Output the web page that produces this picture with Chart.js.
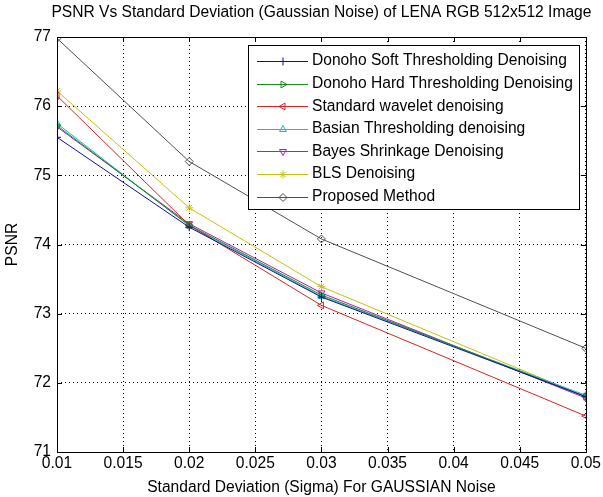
<!DOCTYPE html>
<html lang="en">
<head>
    <meta charset="utf-8">
    <title>PSNR Vs Standard Deviation</title>
    <script src="https://cdn.jsdelivr.net/npm/chart.js"></script>
    <style>
        html, body { margin: 0; padding: 0; background: #fff; }
        #wrap { width: 603px; height: 497px; }
    </style>
</head>
<body>
    <div id="wrap"><canvas id="psnrChart"></canvas></div>
    <script>
        // Valores
        const sigma = [0.01, 0.02, 0.03, 0.05];
        const xTicks = [0.01, 0.015, 0.02, 0.025, 0.03, 0.035, 0.04, 0.045, 0.05];
        const yTicks = [71, 72, 73, 74, 75, 76, 77];

        const donohoSoft = [75.55, 74.25, 73.24, 71.80];
        const donohoHard = [75.72, 74.28, 73.27, 71.80];
        const standardWavelet = [76.15, 74.28, 73.12, 71.52];
        const basian = [75.75, 74.27, 73.25, 71.82];
        const bayesShrink = [75.70, 74.30, 73.30, 71.78];
        const bls = [76.22, 74.53, 73.39, 71.80];
        const proposed = [76.98, 75.20, 74.08, 72.50];

        const FONT = 'Liberation Sans, Arial, sans-serif';
        const FSIZE = 15.6;

        function serie(label, valores, cor, estilo, rot) {
            return {
                label: label,
                data: sigma.map((s, i) => ({ x: s, y: valores[i] })),
                borderColor: cor,
                backgroundColor: 'rgba(0,0,0,0)',
                pointBorderColor: cor,
                pointBackgroundColor: 'rgba(0,0,0,0)',
                borderWidth: 1,
                pointBorderWidth: 1,
                pointRadius: 4,
                pointStyle: estilo,
                pointRotation: rot || 0,
                tension: 0
            };
        }

        const datasets = [
            serie('Donoho Soft Thresholding Denoising', donohoSoft, '#1010a0', 'cross'),
            serie('Donoho Hard Thresholding Denoising', donohoHard, '#1a8a1a', 'triangle', 90),
            serie('Standard wavelet denoising', standardWavelet, '#d02828', 'triangle', -90),
            serie('Basian Thresholding denoising', basian, '#20b8c0', 'triangle'),
            serie('Bayes Shrinkage Denoising', bayesShrink, '#b020b0', 'triangle', 180),
            serie('BLS Denoising', bls, '#c8c010', 'star'),
            serie('Proposed Method', proposed, '#505050', 'rectRot')
        ];

        function marcador(ctx, ds, x, y) {
            if (Chart.helpers && Chart.helpers.drawPoint) {
                ctx.save();
                ctx.strokeStyle = ds.pointBorderColor;
                ctx.fillStyle = 'rgba(0,0,0,0)';
                ctx.lineWidth = 1;
                Chart.helpers.drawPoint(ctx, {
                    pointStyle: ds.pointStyle,
                    rotation: ds.pointRotation,
                    radius: ds.pointRadius,
                    borderWidth: 1
                }, x, y);
                ctx.restore();
            }
        }

        // Caixa, ticks internos, título e legenda no estilo MATLAB
        const matlabStyle = {
            id: 'matlabStyle',
            afterDraw(chart) {
                const ctx = chart.ctx;
                const a = chart.chartArea;
                const xs = chart.scales.x, ys = chart.scales.y;
                ctx.save();
                ctx.strokeStyle = '#000';
                ctx.lineWidth = 1;
                ctx.beginPath();
                xTicks.forEach(t => {
                    const px = Math.round(xs.getPixelForValue(t)) + 0.5;
                    ctx.moveTo(px, a.bottom); ctx.lineTo(px, a.bottom - 5);
                    ctx.moveTo(px, a.top); ctx.lineTo(px, a.top + 5);
                });
                yTicks.forEach(t => {
                    const py = Math.round(ys.getPixelForValue(t)) + 0.5;
                    ctx.moveTo(a.left, py); ctx.lineTo(a.left + 5, py);
                    ctx.moveTo(a.right, py); ctx.lineTo(a.right - 5, py);
                });
                ctx.stroke();
                ctx.strokeRect(Math.round(a.left) + 0.5, Math.round(a.top) + 0.5,
                    Math.round(a.right - a.left), Math.round(a.bottom - a.top));

                // título
                ctx.fillStyle = '#000';
                ctx.font = FSIZE + 'px ' + FONT;
                ctx.textAlign = 'center';
                ctx.textBaseline = 'middle';
                ctx.fillText('PSNR Vs Standard Deviation (Gaussian Noise) of LENA RGB 512x512 Image',
                    (a.left + a.right) / 2, 13);

                // legenda
                const lx = 248, ly = 45, lw = 331, lh = 164;
                ctx.fillStyle = '#fff';
                ctx.fillRect(lx, ly, lw, lh);
                ctx.strokeStyle = '#000';
                ctx.strokeRect(lx + 0.5, ly + 0.5, lw, lh);
                ctx.textAlign = 'left';
                chart.data.datasets.forEach((ds, i) => {
                    const y = ly + 16 + i * 22.6;
                    ctx.strokeStyle = ds.borderColor;
                    ctx.lineWidth = 1;
                    ctx.beginPath();
                    ctx.moveTo(257, Math.round(y) + 0.5);
                    ctx.lineTo(308, Math.round(y) + 0.5);
                    ctx.stroke();
                    marcador(ctx, ds, 283, Math.round(y) + 0.5);
                    ctx.fillStyle = '#000';
                    ctx.fillText(ds.label, 312, y);
                });
                ctx.restore();
            }
        };

        new Chart(document.getElementById('psnrChart'), {
            type: 'line',
            data: { datasets: datasets },
            plugins: [matlabStyle],
            options: {
                responsive: true,
                maintainAspectRatio: false,
                animation: false,
                layout: { padding: { top: 37, right: 15, left: 0, bottom: 0 } },
                plugins: {
                    legend: { display: false },
                    title: { display: false },
                    tooltip: { enabled: false }
                },
                scales: {
                    x: {
                        type: 'linear',
                        min: 0.01,
                        max: 0.05,
                        afterBuildTicks: s => { s.ticks = xTicks.map(v => ({ value: v })); },
                        afterFit: s => { s.height = 45; },
                        border: { display: false, dash: [1, 3] },
                        grid: {
                            color: '#000',
                            lineWidth: 1,
                            drawTicks: false
                        },
                        ticks: {
                            color: '#000',
                            font: { family: FONT, size: FSIZE },
                            padding: 2,
                            maxRotation: 0,
                            callback: v => String(+v.toFixed(3))
                        },
                        title: {
                            display: true,
                            text: 'Standard Deviation (Sigma) For GAUSSIAN Noise',
                            color: '#000',
                            font: { family: FONT, size: FSIZE },
                            padding: { top: 2, bottom: 0 }
                        }
                    },
                    y: {
                        min: 71,
                        max: 77,
                        afterBuildTicks: s => { s.ticks = yTicks.map(v => ({ value: v })); },
                        afterFit: s => { s.width = 57; },
                        border: { display: false, dash: [1, 3] },
                        grid: {
                            color: '#000',
                            lineWidth: 1,
                            drawTicks: false
                        },
                        ticks: {
                            color: '#000',
                            font: { family: FONT, size: FSIZE },
                            padding: 6
                        },
                        title: {
                            display: true,
                            text: 'PSNR',
                            color: '#000',
                            font: { family: FONT, size: FSIZE },
                            padding: { top: 3, bottom: 0 }
                        }
                    }
                }
            }
        });
    </script>
</body>
</html>
